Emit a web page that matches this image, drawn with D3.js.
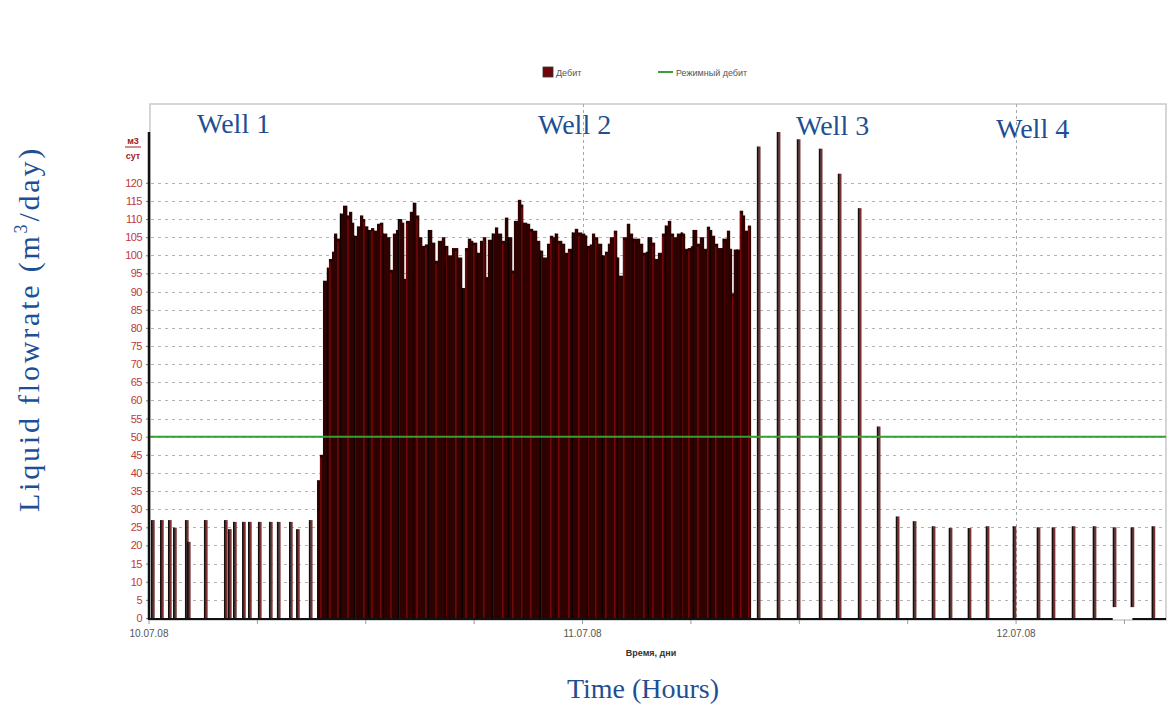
<!DOCTYPE html>
<html><head><meta charset="utf-8">
<script src="https://cdn.jsdelivr.net/npm/d3@7"></script>
<style>body{margin:0;background:#fff}svg{display:block}</style>
</head><body><svg id="c" width="1170" height="705"></svg>
<script>
// ---------------- data ----------------
const dayLabels = ["10.07.08", "11.07.08", "12.07.08"];
const dayHours = [0, 24, 48];
const minorTickHours = [6, 12, 18, 30, 36, 42, 54];
const yTickValues = [0,5,10,15,20,25,30,35,40,45,50,55,60,65,70,75,80,85,90,95,100,105,110,115,120];
const wellNames = ["Well 1", "Well 2", "Well 3", "Well 4"];
const legendLabels = ["Дебит", "Режимный дебит"];
const regimeRate = 50;

const well1Hours = [0.11,0.61,1.05,1.33,1.99,2.10,3.04,4.15,4.37,4.65,5.15,5.48,6.03,6.64,7.08,7.75,8.14,8.85];
const well1Flow  = [27,27,27,24.9,27,21,27,27,24.5,26.5,26.5,26.5,26.5,26.5,26.5,26.5,24.5,27];

const well2Hours = [9.30,9.46,9.63,9.85,9.96,10.13,10.24,10.40,10.57,10.74,10.96,11.07,11.23,11.34,11.51,11.68,11.84,11.95,12.12,12.29,12.45,12.62,12.78,12.95,13.17,13.34,13.50,13.67,13.78,14.00,14.11,14.22,14.44,14.61,14.78,14.94,15.11,15.27,15.44,15.66,15.83,15.99,16.21,16.38,16.55,16.77,16.93,17.10,17.32,17.49,17.65,17.82,17.93,18.15,18.32,18.48,18.65,18.76,18.98,19.15,19.31,19.53,19.70,19.87,20.09,20.20,20.42,20.59,20.70,20.92,21.08,21.25,21.47,21.64,21.80,22.03,22.19,22.36,22.47,22.63,22.86,23.02,23.19,23.41,23.57,23.74,23.96,24.13,24.24,24.40,24.52,24.68,24.85,25.07,25.24,25.40,25.51,25.73,25.90,26.01,26.23,26.45,26.62,26.78,27.01,27.17,27.34,27.50,27.61,27.84,28.00,28.17,28.39,28.56,28.72,28.89,29.05,29.22,29.44,29.55,29.66,29.83,29.99,30.10,30.33,30.49,30.71,30.88,31.04,31.16,31.32,31.49,31.65,31.76,31.99,32.15,32.26,32.37,32.54,32.70,32.87,32.98,33.15];
const well2Flow  = [38,45,93,96.6,99,101,106,104.6,111.5,113.7,111,112,109,105.4,108,111,110,108,107,107.5,106.8,108.7,109,106,105,96,106,107,110,109,93.5,109.5,112,114.5,111,105,102.6,103,107,103.5,98.5,104,105,102.6,100,102,102,99.4,91,102,104.6,104,103.5,100.7,104,105,94,104.3,106,107.7,106,104,110.4,105,95.8,109.5,115.3,114,109,108.7,107.3,106.8,104,101.3,99.4,103.2,105.4,105,106,104,103.2,100.7,101.8,106.3,107.3,106.3,106,105.5,102.6,103,106,105,103.2,100,101,103.2,105,106.8,99.4,94.4,105,108.7,106,104.6,104.6,103.2,100.7,101,105,103.5,99,100.7,106,108.2,109.5,106,105,106,106.3,106,101.8,102,102.5,107,103.2,105,101.8,107.9,107,105.4,103.2,102,102,104.6,106.8,101.8,89.5,101.6,101.6,112.3,111,106.8,108.2];
const well2EndHour = 33.31;

const well3Hours = [33.65,34.75,35.86,37.08,38.13,39.24,40.29];
const well3Flow  = [130,134,132,129.4,122.5,113,52.8];

const well4Hours = [41.34,42.28,43.33,44.27,45.32,46.32,47.81,49.14,49.97,51.08,52.24,53.35,54.34,55.50];
const well4Flow  = [28,26.7,25.3,24.8,24.8,25.3,25.3,25,25,25.3,25.3,25,25,25.3];
const well4Low   = [0,0,0,0,0,0,0,0,0,0,0,3,3,0];

// ---------------- layout ----------------
const svg = d3.select("#c");
const L = 149, R = 1166, T = 132, B = 618;
const x = d3.scaleLinear().domain([0, 56.3]).range([L, R]);
const y = d3.scaleLinear().domain([0, 134]).range([B, T]);

svg.append("rect").attr("width",1170).attr("height",705).attr("fill","#fff");

// frame
svg.append("rect").attr("x",150).attr("y",104).attr("width",1016).attr("height",516)
  .attr("fill","none").attr("stroke","#c9c9c9").attr("stroke-width",1.5);

// horizontal grid
svg.append("g").selectAll("line").data(yTickValues.filter(v => v > 0)).join("line")
  .attr("x1", L + 2).attr("x2", R - 1)
  .attr("y1", d => Math.round(y(d)) + 0.5).attr("y2", d => Math.round(y(d)) + 0.5)
  .attr("stroke","#b4b4b4").attr("stroke-width",1).attr("stroke-dasharray","3,4");

// vertical day grid
svg.append("g").selectAll("line").data(dayHours.filter(h => h > 0)).join("line")
  .attr("x1", d => Math.round(x(d)) + 0.5).attr("x2", d => Math.round(x(d)) + 0.5)
  .attr("y1", 104).attr("y2", B)
  .attr("stroke","#a8a8a8").attr("stroke-width",1).attr("stroke-dasharray","3,3");

// ---- dense bars (well 2)
const g2 = svg.append("g");
const w2 = well2Hours.map((h, i) => ({h, v: well2Flow[i], e: i < well2Hours.length - 1 ? well2Hours[i+1] : well2EndHour, i}));
g2.selectAll("rect").data(w2).join("rect")
  .attr("x", d => x(d.h)).attr("width", d => x(d.e) - x(d.h) + 0.4)
  .attr("y", d => y(d.v)).attr("height", d => B - y(d.v))
  .attr("fill", "#2f0202");
g2.selectAll("line.red").data(w2.filter(d => d.i % 3 === 1)).join("line")
  .attr("class","red")
  .attr("x1", d => x(d.h) + 1).attr("x2", d => x(d.h) + 1)
  .attr("y1", d => y(d.v) + 3).attr("y2", B)
  .attr("stroke", "#7c0909").attr("stroke-width", 1.4);
g2.selectAll("line.blk").data(w2.filter(d => d.i % 5 === 3)).join("line")
  .attr("class","blk")
  .attr("x1", d => x(d.h) + 0.5).attr("x2", d => x(d.h) + 0.5)
  .attr("y1", d => y(d.v)).attr("y2", B)
  .attr("stroke", "#0a0000").attr("stroke-width", 1.2);

// ---- sparse bars (wells 1, 3, 4)
function sparse(hours, flow, low) {
  const data = hours.map((h, i) => ({h, v: flow[i], lo: low ? low[i] : 0, i}));
  const g = svg.append("g");
  g.selectAll("rect.r").data(data).join("rect").attr("class","r")
    .attr("x", d => x(d.h) + 1.5).attr("width", 2.2)
    .attr("y", d => y(d.v)).attr("height", d => y(d.lo) - y(d.v))
    .attr("fill", "#7e3030");
  g.selectAll("rect.k").data(data).join("rect").attr("class","k")
    .attr("x", d => x(d.h)).attr("width", 1.8)
    .attr("y", d => y(d.v)).attr("height", d => y(d.lo) - y(d.v))
    .attr("fill", "#141010");
}
sparse(well1Hours, well1Flow);
sparse(well3Hours, well3Flow);
sparse(well4Hours, well4Flow, well4Low);

// regime line
svg.append("line").attr("x1", 150).attr("x2", R).attr("y1", y(regimeRate)).attr("y2", y(regimeRate))
  .attr("stroke","#35a035").attr("stroke-width",2);

// y axis
const ya = svg.append("g").attr("transform",`translate(${L},0)`)
  .call(d3.axisLeft(y).tickValues(yTickValues).tickSize(3).tickPadding(4));
ya.select(".domain").remove();
ya.selectAll(".tick line").attr("stroke","#777");
ya.selectAll("text").attr("fill","#c0393b").attr("font-family","Liberation Sans, Arial, sans-serif")
  .attr("font-size",11).style("letter-spacing","-0.5px");
svg.append("line").attr("x1",L).attr("x2",L).attr("y1",T).attr("y2",B+2)
  .attr("stroke","#111").attr("stroke-width",2.5);

// baseline (with gap where bars are raised)
const raised = well4Hours.filter((h,i) => well4Low[i] > 0);
const segs = raised.length ? [[0, raised[0]], [raised[raised.length-1] + 0.1, 56.3]] : [[0,56.3]];
svg.append("g").selectAll("line").data(segs).join("line")
  .attr("x1", d => x(d[0])).attr("x2", d => x(d[1]))
  .attr("y1", B + 1).attr("y2", B + 1).attr("stroke","#111").attr("stroke-width",2.2);

// x ticks
svg.append("g").selectAll("line").data(dayHours.concat(minorTickHours)).join("line")
  .attr("x1", d => x(d)).attr("x2", d => x(d)).attr("y1", B + 2).attr("y2", B + 6)
  .attr("stroke","#999").attr("stroke-width",1);
svg.append("g").selectAll("text").data(dayHours).join("text")
  .attr("x", d => x(d)).attr("y", 637).attr("text-anchor","middle")
  .attr("font-family","Liberation Sans, Arial, sans-serif").attr("font-size",10)
  .attr("fill","#555").text((d,i) => dayLabels[i]);
svg.append("text").attr("x", 651).attr("y", 656).attr("text-anchor","middle")
  .attr("font-family","Liberation Sans, Arial, sans-serif").attr("font-size",9).attr("font-weight","bold")
  .attr("fill","#333").text("Время, дни");

// unit label
const ul = svg.append("g").attr("font-family","Liberation Sans, Arial, sans-serif").attr("font-size",9)
  .attr("font-weight","bold").attr("fill","#a02020").attr("text-anchor","middle");
ul.append("text").attr("x",133).attr("y",144).text("м3");
ul.append("line").attr("x1",125).attr("x2",141).attr("y1",147).attr("y2",147).attr("stroke","#a02020");
ul.append("text").attr("x",133).attr("y",159).text("сут");

// legend
svg.append("rect").attr("x",543).attr("y",67).attr("width",10).attr("height",10)
  .attr("fill","#6e0808").attr("stroke","#333").attr("stroke-width",0.8);
svg.append("line").attr("x1",658).attr("x2",673).attr("y1",72).attr("y2",72)
  .attr("stroke","#35a035").attr("stroke-width",2);
svg.append("g").selectAll("text").data(legendLabels).join("text")
  .attr("x", (d,i) => i === 0 ? 556 : 676).attr("y", 76)
  .attr("font-family","Liberation Sans, Arial, sans-serif").attr("font-size",9)
  .attr("fill","#555").text(d => d);

// well labels
const wellPos = [[197,133],[538,134],[796,135],[996,138]];
svg.append("g").selectAll("text").data(wellNames).join("text")
  .attr("x", (d,i) => wellPos[i][0]).attr("y", (d,i) => wellPos[i][1])
  .attr("font-family","Liberation Serif, Times New Roman, serif").attr("font-size",28)
  .attr("fill","#1f4f93").text(d => d);

// axis titles
const yt = svg.append("text").attr("transform","translate(39,329) rotate(-90)")
  .attr("text-anchor","middle").attr("font-family","Liberation Serif, Times New Roman, serif")
  .attr("font-size",30).attr("fill","#1f4f93").style("letter-spacing","2.8px");
yt.append("tspan").text("Liquid flowrate (m");
yt.append("tspan").attr("font-size",18).attr("dy",-12).text("3");
yt.append("tspan").attr("dy",12).text("/day)");
svg.append("text").attr("x",643).attr("y",698).attr("text-anchor","middle")
  .attr("font-family","Liberation Serif, Times New Roman, serif").attr("font-size",28)
  .attr("fill","#1f4f93").text("Time (Hours)");
</script></body></html>
